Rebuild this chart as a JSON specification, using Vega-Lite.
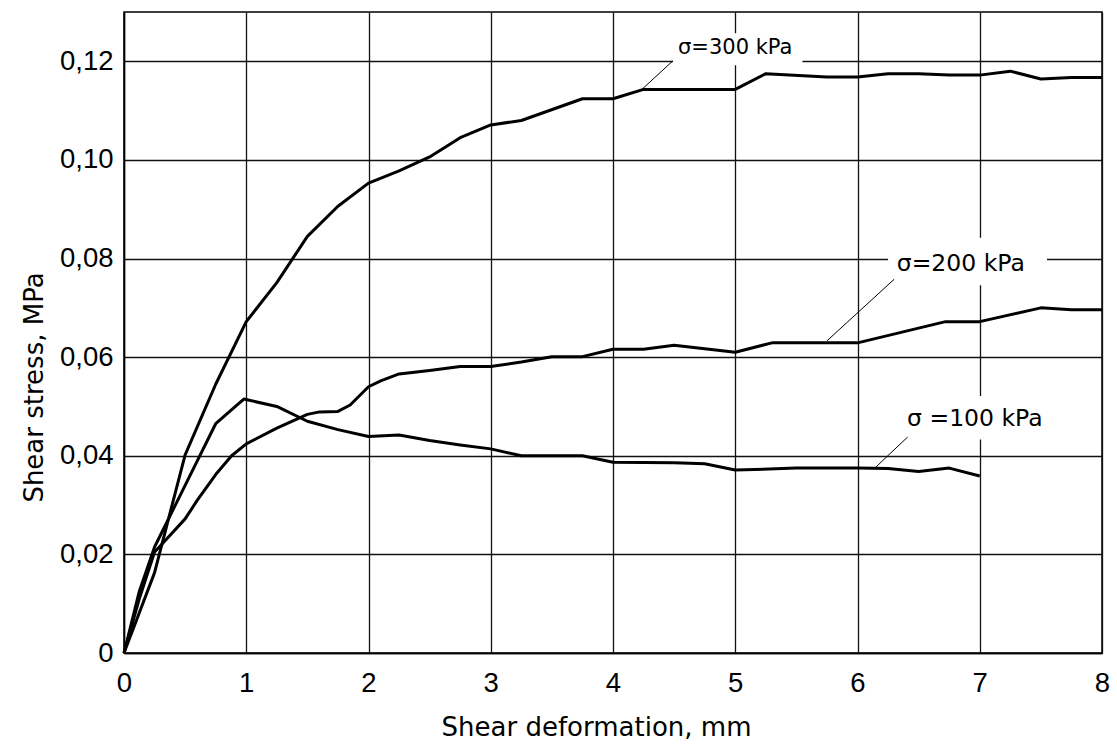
{
  "$schema": "https://vega.github.io/schema/vega-lite/v6.json",
  "autosize": "none",
  "width": 978,
  "height": 641,
  "padding": {"left": 124, "top": 12, "right": 15, "bottom": 101},
  "background": "white",
  "config": {
    "font": "Liberation Sans",
    "view": {"stroke": "black", "strokeWidth": 1.5},
    "axis": {
      "grid": true,
      "gridColor": "#111111",
      "gridWidth": 1.3,
      "gridOpacity": 1,
      "domainColor": "black",
      "domainWidth": 1.5,
      "ticks": false,
      "labelFlush": false,
      "labelOverlap": false,
      "labelFont": "Liberation Sans",
      "labelFontSize": 27.5,
      "labelColor": "black",
      "titleFont": "DejaVu Sans",
      "titleFontSize": 26,
      "titleFontWeight": "normal",
      "titleColor": "black"
    }
  },
  "datasets": {
    "curves": [
      {"series": "100", "x": 0, "y": 0},
      {"series": "100", "x": 0.125, "y": 0.0125},
      {"series": "100", "x": 0.25, "y": 0.0215},
      {"series": "100", "x": 0.5, "y": 0.034},
      {"series": "100", "x": 0.75, "y": 0.0465},
      {"series": "100", "x": 0.98, "y": 0.0515},
      {"series": "100", "x": 1.25, "y": 0.05},
      {"series": "100", "x": 1.5, "y": 0.047},
      {"series": "100", "x": 1.75, "y": 0.0453},
      {"series": "100", "x": 2.0, "y": 0.0439},
      {"series": "100", "x": 2.25, "y": 0.0442},
      {"series": "100", "x": 2.5, "y": 0.0431},
      {"series": "100", "x": 2.75, "y": 0.0422},
      {"series": "100", "x": 3.0, "y": 0.0414},
      {"series": "100", "x": 3.25, "y": 0.04},
      {"series": "100", "x": 3.75, "y": 0.04},
      {"series": "100", "x": 4.0, "y": 0.0387},
      {"series": "100", "x": 4.5, "y": 0.0386},
      {"series": "100", "x": 4.75, "y": 0.0384},
      {"series": "100", "x": 5.0, "y": 0.0371},
      {"series": "100", "x": 5.5, "y": 0.0375},
      {"series": "100", "x": 6.0, "y": 0.0375},
      {"series": "100", "x": 6.25, "y": 0.0374},
      {"series": "100", "x": 6.5, "y": 0.0368},
      {"series": "100", "x": 6.75, "y": 0.0375},
      {"series": "100", "x": 7.0, "y": 0.0359},

      {"series": "200", "x": 0, "y": 0},
      {"series": "200", "x": 0.125, "y": 0.011},
      {"series": "200", "x": 0.25, "y": 0.0205},
      {"series": "200", "x": 0.3, "y": 0.0218},
      {"series": "200", "x": 0.5, "y": 0.0272},
      {"series": "200", "x": 0.6, "y": 0.031},
      {"series": "200", "x": 0.75, "y": 0.0362},
      {"series": "200", "x": 0.88, "y": 0.04},
      {"series": "200", "x": 1.0, "y": 0.0424},
      {"series": "200", "x": 1.25, "y": 0.0456},
      {"series": "200", "x": 1.5, "y": 0.0484},
      {"series": "200", "x": 1.6, "y": 0.0489},
      {"series": "200", "x": 1.75, "y": 0.049},
      {"series": "200", "x": 1.85, "y": 0.0503},
      {"series": "200", "x": 2.0, "y": 0.054},
      {"series": "200", "x": 2.1, "y": 0.0552},
      {"series": "200", "x": 2.25, "y": 0.0566},
      {"series": "200", "x": 2.5, "y": 0.0573},
      {"series": "200", "x": 2.75, "y": 0.0581},
      {"series": "200", "x": 3.0, "y": 0.0581},
      {"series": "200", "x": 3.25, "y": 0.059},
      {"series": "200", "x": 3.5, "y": 0.0601},
      {"series": "200", "x": 3.75, "y": 0.0601},
      {"series": "200", "x": 4.0, "y": 0.0616},
      {"series": "200", "x": 4.25, "y": 0.0616},
      {"series": "200", "x": 4.5, "y": 0.0624},
      {"series": "200", "x": 5.0, "y": 0.061},
      {"series": "200", "x": 5.3, "y": 0.0629},
      {"series": "200", "x": 6.0, "y": 0.0629},
      {"series": "200", "x": 6.72, "y": 0.0672},
      {"series": "200", "x": 7.0, "y": 0.0672},
      {"series": "200", "x": 7.5, "y": 0.07},
      {"series": "200", "x": 7.75, "y": 0.0696},
      {"series": "200", "x": 8.0, "y": 0.0696},

      {"series": "300", "x": 0, "y": 0},
      {"series": "300", "x": 0.25, "y": 0.0163},
      {"series": "300", "x": 0.5, "y": 0.0402},
      {"series": "300", "x": 0.75, "y": 0.0545},
      {"series": "300", "x": 1.0, "y": 0.0672},
      {"series": "300", "x": 1.25, "y": 0.0751},
      {"series": "300", "x": 1.5, "y": 0.0845},
      {"series": "300", "x": 1.75, "y": 0.0906},
      {"series": "300", "x": 2.0, "y": 0.0953},
      {"series": "300", "x": 2.25, "y": 0.0978},
      {"series": "300", "x": 2.5, "y": 0.1006},
      {"series": "300", "x": 2.75, "y": 0.1045},
      {"series": "300", "x": 3.0, "y": 0.1071},
      {"series": "300", "x": 3.25, "y": 0.108},
      {"series": "300", "x": 3.75, "y": 0.1124},
      {"series": "300", "x": 4.0, "y": 0.1124},
      {"series": "300", "x": 4.25, "y": 0.1143},
      {"series": "300", "x": 5.0, "y": 0.1143},
      {"series": "300", "x": 5.25, "y": 0.1175},
      {"series": "300", "x": 5.75, "y": 0.1168},
      {"series": "300", "x": 6.0, "y": 0.1168},
      {"series": "300", "x": 6.25, "y": 0.1175},
      {"series": "300", "x": 6.5, "y": 0.1175},
      {"series": "300", "x": 6.75, "y": 0.1172},
      {"series": "300", "x": 7.0, "y": 0.1172},
      {"series": "300", "x": 7.25, "y": 0.118},
      {"series": "300", "x": 7.5, "y": 0.1164},
      {"series": "300", "x": 7.75, "y": 0.1167},
      {"series": "300", "x": 8.0, "y": 0.1167}
    ],
    "notes": [
      {"label": "σ=300 kPa", "tx": 5.0, "ty": 0.1226, "bx1": 4.49, "bx2": 5.55, "by1": 0.1192, "by2": 0.1257, "lx1": 4.49, "ly1": 0.1201, "lx2": 4.232, "ly2": 0.1142},
      {"label": "σ=200 kPa", "tx": 6.845, "ty": 0.0789, "bx1": 6.25, "bx2": 7.55, "by1": 0.0746, "by2": 0.0842, "lx1": 6.3, "ly1": 0.0758, "lx2": 5.75, "ly2": 0.0633},
      {"label": "σ =100 kPa", "tx": 6.96, "ty": 0.0475, "bx1": 6.38, "bx2": 7.55, "by1": 0.0433, "by2": 0.0521, "lx1": 6.41, "ly1": 0.0438, "lx2": 6.15, "ly2": 0.0377}
    ]
  },
  "layer": [
    {
      "data": {"name": "notes"},
      "mark": {"type": "rect", "fill": "white", "stroke": null},
      "encoding": {
        "x": {"field": "bx1", "type": "quantitative"},
        "x2": {"field": "bx2"},
        "y": {"field": "by1", "type": "quantitative"},
        "y2": {"field": "by2"}
      }
    },
    {
      "data": {"name": "curves"},
      "mark": {"type": "line", "color": "black", "strokeWidth": 3, "strokeJoin": "round"},
      "encoding": {
        "x": {
          "field": "x",
          "type": "quantitative",
          "scale": {"domain": [0, 8], "nice": false, "zero": true},
          "axis": {
            "title": "Shear deformation, mm",
            "values": [0, 1, 2, 3, 4, 5, 6, 7, 8],
            "format": "d",
            "labelPadding": 16,
            "titleX": 472,
            "titleY": 82,
            "titleAlign": "center",
            "titleAnchor": null,
            "titleBaseline": "alphabetic"
          }
        },
        "y": {
          "field": "y",
          "type": "quantitative",
          "scale": {"domain": [0, 0.13], "nice": false},
          "axis": {
            "title": "Shear stress, MPa",
            "values": [0, 0.02, 0.04, 0.06, 0.08, 0.1, 0.12],
            "labelExpr": "datum.value == 0 ? '0' : replace(format(datum.value, '.2f'), '.', ',')",
            "labelPadding": 11,
            "titleAngle": -90,
            "titleX": -82,
            "titleY": 375,
            "titleAlign": "center",
            "titleAnchor": null,
            "titleBaseline": "alphabetic"
          }
        },
        "detail": {"field": "series", "type": "nominal"},
        "order": {"field": "x", "type": "quantitative"}
      }
    },
    {
      "data": {"name": "notes"},
      "mark": {"type": "rule", "color": "black", "strokeWidth": 1},
      "encoding": {
        "x": {"field": "lx1", "type": "quantitative"},
        "x2": {"field": "lx2"},
        "y": {"field": "ly1", "type": "quantitative"},
        "y2": {"field": "ly2"}
      }
    },
    {
      "data": {"name": "notes"},
      "mark": {"type": "text", "font": "DejaVu Sans", "color": "black", "align": "center", "baseline": "middle"},
      "encoding": {
        "x": {"field": "tx", "type": "quantitative"},
        "y": {"field": "ty", "type": "quantitative"},
        "text": {"field": "label"},
        "size": {
          "condition": {"test": "datum.label == 'σ=300 kPa'", "value": 21},
          "value": 23.5
        }
      }
    }
  ]
}
